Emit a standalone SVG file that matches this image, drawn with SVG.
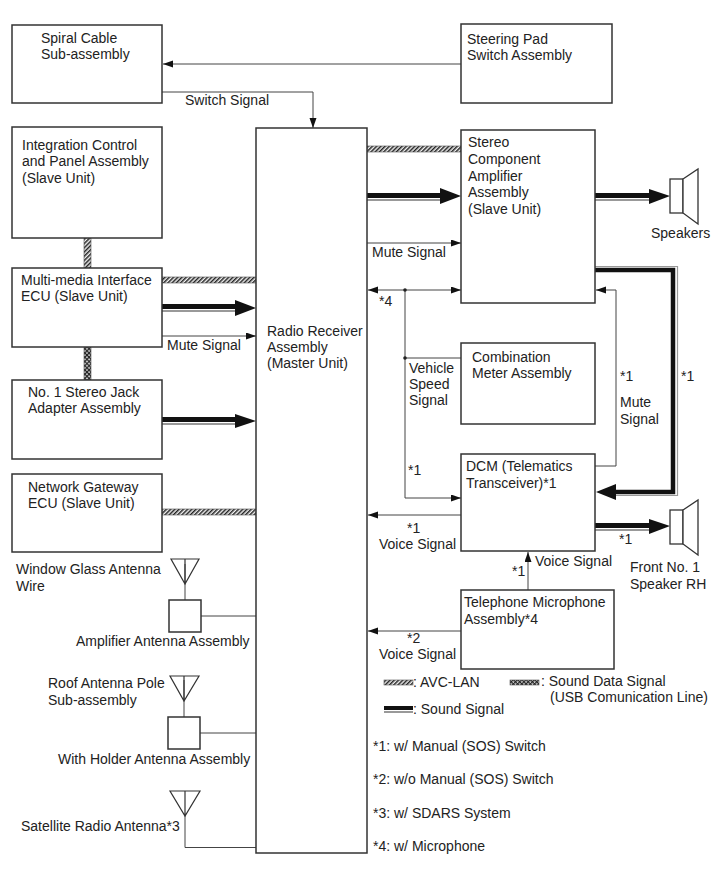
<svg xmlns="http://www.w3.org/2000/svg" width="713" height="882" viewBox="0 0 713 882">
<defs>
<pattern id="avc" width="3" height="3" patternUnits="userSpaceOnUse" patternTransform="rotate(-45)"><rect width="3" height="3" fill="#f2f2f2"/><rect width="3" height="1.500" fill="#222"/></pattern>
<pattern id="usb" width="3" height="3" patternUnits="userSpaceOnUse" patternTransform="rotate(45)"><rect width="3" height="3" fill="#eee"/><rect width="3" height="1.300" fill="#222"/><rect width="1.300" height="3" fill="#222"/></pattern>
<marker id="a" markerUnits="userSpaceOnUse" markerWidth="11" markerHeight="8" refX="10" refY="3.5" orient="auto-start-reverse"><path d="M0 0L10 3.500L0 7z" fill="#111"/></marker>
</defs>
<style>
text{font-family:"Liberation Sans",Arial,sans-serif;font-size:14px;fill:#222;transform:translateY(1px)}
.b{fill:#fff;stroke:#333;stroke-width:1.5}
.l{fill:none;stroke:#444;stroke-width:1}
.h{fill:#111}
.g{fill:#999}
.s{fill:#fff;stroke:#333;stroke-width:1.3}
.w{fill:none;stroke:#333;stroke-width:1.2}
.p{stroke:#555;stroke-width:.6}
</style>
<rect width="713" height="882" fill="#fff"/>
<g id="connectors">
<rect class="p" x="367" y="146" width="94" height="6" fill="url(#avc)"/>
<rect class="p" x="162" y="277" width="94" height="6" fill="url(#avc)"/>
<rect class="p" x="162" y="509" width="94" height="6" fill="url(#avc)"/>
<rect class="p" x="84" y="238" width="7" height="30" fill="url(#avc)"/>
<rect class="p" x="84" y="347" width="7" height="33" fill="url(#usb)"/>
<path class="l" d="M461 64H163" marker-end="url(#a)"/>
<path class="l" d="M162 92H313V128" marker-end="url(#a)"/>
<path class="l" d="M162 336H256" marker-end="url(#a)"/>
<path class="l" d="M367 243H461" marker-end="url(#a)"/>
<path class="l" d="M405 290H368" marker-end="url(#a)"/>
<path class="l" d="M405 290H461" marker-end="url(#a)"/>
<path class="l" d="M405 290V498H461" marker-end="url(#a)"/>
<path class="l" d="M405 358H461"/>
<path class="l" d="M461 515H368" marker-end="url(#a)"/>
<path class="l" d="M461 631H368" marker-end="url(#a)"/>
<path class="l" d="M595 466H616V290H596" marker-end="url(#a)"/>
<path class="l" d="M528 590V552" marker-end="url(#a)"/>
<circle cx="405" cy="290" r="1.8" fill="#222"/>
<circle cx="405" cy="358" r="1.8" fill="#222"/>
<g id="sound-lines">
<rect x="162" y="304" width="76" height="5" class="h"/><rect x="162" y="310" width="76" height="2" class="g"/><path class="h" d="M235 300L256 308L235 316z"/>
<rect x="162" y="417" width="76" height="5" class="h"/><rect x="162" y="423" width="76" height="2" class="g"/><path class="h" d="M235 414L256 421L235 428z"/>
<rect x="367" y="193" width="76" height="5" class="h"/><rect x="367" y="199" width="76" height="2" class="g"/><path class="h" d="M440 188L461 196L440 204z"/>
<rect x="595" y="193" width="60" height="5" class="h"/><rect x="595" y="199" width="60" height="2" class="g"/><path class="h" d="M649 189L670 196L649 204z"/>
<rect x="595" y="523" width="60" height="5" class="h"/><rect x="595" y="529" width="60" height="2" class="g"/><path class="h" d="M649 519L670 526L649 534z"/>
<path fill="none" stroke="#111" stroke-width="4.5" d="M595 270H673V492H610"/>
<path fill="none" stroke="#999" stroke-width="1.2" d="M595 266.500H677.500V495.500H610"/>
<path class="h" d="M596 492L616 484V500z"/>
</g>
<path class="l" d="M185 564V600"/>
<path class="l" d="M184 680V717"/>
<path class="l" d="M201 616H256"/>
<path class="l" d="M200 733H256"/>
<path class="l" d="M185 815V847.500H256"/>
</g>
<g id="spiral"><rect class="b" x="12" y="25" width="150" height="78"/><text x="41" y="42">Spiral Cable</text><text x="41" y="58">Sub-assembly</text></g>
<g id="steering"><rect class="b" x="461" y="24" width="151" height="79"/><text x="467" y="43">Steering Pad</text><text x="467" y="59">Switch Assembly</text></g>
<g id="integration"><rect class="b" x="12" y="127" width="150" height="111"/><text x="22" y="149">Integration Control</text><text x="22" y="165">and Panel Assembly</text><text x="22" y="182">(Slave Unit)</text></g>
<g id="multimedia"><rect class="b" x="12" y="268" width="150" height="79"/><text x="21" y="284">Multi-media Interface</text><text x="21" y="300">ECU (Slave Unit)</text></g>
<g id="jack"><rect class="b" x="12" y="380" width="150" height="79"/><text x="28" y="396">No. 1 Stereo Jack</text><text x="28" y="412">Adapter Assembly</text></g>
<g id="gateway"><rect class="b" x="12" y="474" width="150" height="78"/><text x="28" y="491">Network Gateway</text><text x="28" y="507">ECU (Slave Unit)</text></g>
<g id="radio"><rect class="b" x="256" y="128" width="111" height="725"/><text x="267" y="335">Radio Receiver</text><text x="267" y="351">Assembly</text><text x="267" y="367">(Master Unit)</text></g>
<g id="amplifier"><rect class="b" x="461" y="130" width="134" height="173"/><text x="468" y="146">Stereo</text><text x="468" y="163">Component</text><text x="468" y="180">Amplifier</text><text x="468" y="196">Assembly</text><text x="468" y="213">(Slave Unit)</text></g>
<g id="meter"><rect class="b" x="461" y="343" width="134" height="81"/><text x="472" y="361">Combination</text><text x="472" y="377">Meter Assembly</text></g>
<g id="dcm"><rect class="b" x="461" y="454" width="134" height="97"/><text x="466" y="470">DCM (Telematics</text><text x="466" y="487">Transceiver)*1</text></g>
<g id="microphone"><rect class="b" x="461" y="590" width="153" height="79"/><text x="464" y="606">Telephone Microphone</text><text x="464" y="623">Assembly*4</text></g>
<g id="speakers"><rect class="s" x="670" y="179" width="13" height="34"/><path class="s" d="M683 179L698 169V224L683 213z"/><text x="651" y="237">Speakers</text></g>
<g id="front-speaker"><rect class="s" x="670" y="510" width="13" height="34"/><path class="s" d="M683 510L698 500V555L683 544z"/><text x="630" y="571">Front No. 1</text><text x="630" y="588">Speaker RH</text></g>
<g id="window-antenna"><path class="w" d="M171 559H199L185 584zM185 559V584"/><text x="16" y="573">Window Glass Antenna</text><text x="16" y="590">Wire</text></g>
<g id="amp-antenna"><rect class="b" x="169" y="600" width="32" height="32"/><text x="76" y="645">Amplifier Antenna Assembly</text></g>
<g id="roof-antenna"><path class="w" d="M170 676H199L184 701zM184 676V701"/><text x="48" y="687">Roof Antenna Pole</text><text x="48" y="704">Sub-assembly</text></g>
<g id="holder-antenna"><rect class="b" x="168" y="717" width="32" height="32"/><text x="58" y="763">With Holder Antenna Assembly</text></g>
<g id="satellite-antenna"><path class="w" d="M170 791H200L185 816zM185 791V816"/><text x="21" y="830">Satellite Radio Antenna*3</text></g>
<g id="labels">
<text x="185" y="104">Switch Signal</text>
<text x="167" y="349">Mute Signal</text>
<text x="372" y="256">Mute Signal</text>
<text x="379" y="305">*4</text>
<text x="409" y="372">Vehicle</text><text x="409" y="388">Speed</text><text x="409" y="404">Signal</text>
<text x="408" y="474">*1</text>
<text x="620" y="380">*1</text>
<text x="620" y="406">Mute</text><text x="620" y="423">Signal</text>
<text x="681" y="380">*1</text>
<text x="407" y="532">*1</text>
<text x="379" y="548">Voice Signal</text>
<text x="619" y="543">*1</text>
<text x="535" y="565">Voice Signal</text>
<text x="512" y="575">*1</text>
<text x="407" y="642">*2</text>
<text x="379" y="658">Voice Signal</text>
</g>
<g id="legend">
<rect class="p" x="384" y="680" width="29" height="5" fill="url(#avc)"/><text x="413" y="686">: AVC-LAN</text>
<rect class="p" x="510" y="680" width="29" height="5" fill="url(#usb)"/><text x="541" y="685">: Sound Data Signal</text><text x="550" y="701">(USB Comunication Line)</text>
<rect x="384" y="706" width="29" height="4" class="h"/><rect x="384" y="711" width="29" height="2" class="g"/><text x="413" y="713">: Sound Signal</text>
<text x="373" y="750">*1: w/ Manual (SOS) Switch</text>
<text x="373" y="783">*2: w/o Manual (SOS) Switch</text>
<text x="373" y="817">*3: w/ SDARS System</text>
<text x="373" y="850">*4: w/ Microphone</text>
</g>
</svg>
